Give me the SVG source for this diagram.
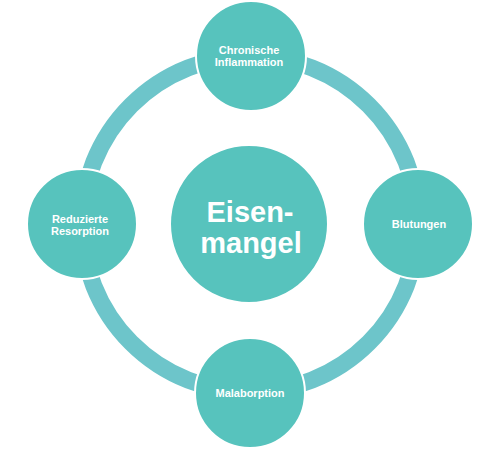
<svg xmlns="http://www.w3.org/2000/svg" width="500" height="450" viewBox="0 0 500 450">
<style>
.node{fill:#57C3BD;stroke:#ffffff;stroke-width:2}
.lbl{fill:#ffffff;font-family:"Liberation Sans",Arial,sans-serif;font-weight:bold;font-size:11px;text-anchor:middle}
.big{fill:#ffffff;font-family:"Liberation Sans",Arial,sans-serif;font-weight:bold;font-size:29px;text-anchor:middle}
</style>
<rect width="500" height="450" fill="#ffffff"/>
<g id="connectors">
<circle cx="250" cy="224" r="168" fill="none" stroke="#6DC5CA" stroke-width="17"/>
</g>
<g id="center">
<circle class="node" cx="249" cy="224" r="79"/>
<text class="big" x="250" y="222">Eisen-</text>
<text class="big" x="251" y="253">mangel</text>
</g>
<g id="top">
<circle class="node" cx="251" cy="56" r="55"/>
<text class="lbl" x="249" y="54">Chronische</text>
<text class="lbl" x="249" y="66">Inflammation</text>
</g>
<g id="right">
<circle class="node" cx="418" cy="224" r="55"/>
<text class="lbl" x="419" y="228">Blutungen</text>
</g>
<g id="bottom">
<circle class="node" cx="250" cy="393" r="55"/>
<text class="lbl" x="250" y="397">Malaborption</text>
</g>
<g id="left">
<circle class="node" cx="82" cy="224" r="55"/>
<text class="lbl" x="80" y="223">Reduzierte</text>
<text class="lbl" x="80" y="235">Resorption</text>
</g>
</svg>
